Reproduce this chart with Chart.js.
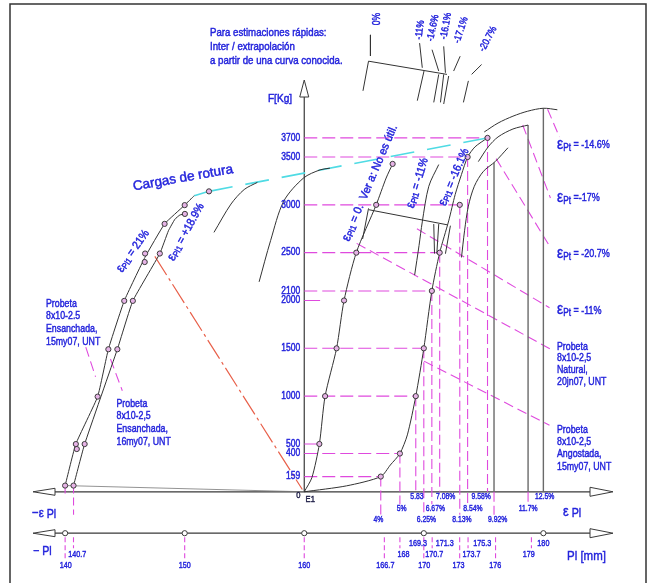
<!DOCTYPE html>
<html lang="es">
<head>
<meta charset="utf-8">
<title>F - εPl</title>
<script src="https://cdn.jsdelivr.net/npm/chart.js@4.4.1/dist/chart.umd.min.js"></script>
<style>
  html, body { margin: 0; padding: 0; background: #fff; }
  #wrap { position: relative; width: 652px; height: 583px; }
</style>
</head>
<body>
<div id="wrap"><canvas id="grafico" width="652" height="583"></canvas></div>
<script>
// x: deformación εPl en %, y: fuerza F en kg, x2: longitud Pl en mm
const EPS_MIN = -15.716, EPS_MAX = 17.99;
const PL_MIN = 134.854, PL_MAX = 188.784;
const F_MIN = -916, F_MAX = 5104;
const PL_AXIS_F = -433;

// curvas medidas [ε %, F kg]
const curveEnsanchada15 = [[-12.5, 65], [-11.94, 500], [-10.80, 995], [-10.24, 1490], [-9.41, 1996], [-8.33, 2450], [-7.30, 2801], [-6.25, 2997], [-5.75, 3096]];
const pointsEnsanchada15 = [[-12.5, 65], [-11.89, 447], [-11.94, 499], [-10.80, 995], [-10.24, 1490], [-9.41, 1996], [-8.34, 2402], [-8.32, 2491], [-7.30, 2801], [-6.25, 2997], [-4.98, 3141]];
const curveEnsanchada16 = [[-12.06, 65], [-11.48, 499], [-9.77, 1490], [-8.96, 1996], [-7.55, 2491], [-7.10, 2729], [-6.76, 2850], [-6.50, 2894], [-6.24, 2905]];
const pointsEnsanchada16 = [[-12.06, 65], [-11.48, 499], [-9.77, 1490], [-8.96, 1996], [-7.55, 2491], [-6.24, 2905]];
const curveNatural = [[0, 0], [0.40, 148], [0.79, 500], [1.09, 1000], [1.69, 1500], [2.08, 2000], [2.72, 2500], [3.76, 3000], [4.28, 3280], [4.62, 3428]];
const pointsNatural = [[0.79, 500], [1.09, 1000], [1.69, 1500], [2.08, 2000], [2.72, 2500], [3.76, 3000], [4.62, 3428]];
const curveAngostada = [[0, 0], [2.21, 62], [4, 159], [4.5, 280], [5, 400], [5.39, 595], [5.83, 1000], [6.25, 1500], [6.67, 2100], [7.08, 2500], [7.55, 2832], [7.89, 3108], [8.22, 3318], [8.54, 3500], [8.93, 3607], [9.58, 3700]];
const pointsAngostada = [[4, 159], [5, 400], [5.83, 1000], [6.25, 1500], [6.67, 2100], [7.08, 2500], [8.13, 3000], [8.54, 3500], [9.58, 3700]];

// curvas estimadas (inter / extrapolación)
const curveMenos11 = [[5.77, 2265], [6.0, 2574], [6.17, 2822], [6.51, 3194], [7.03, 3421]];
const curveMenos161 = [[8.22, 2450], [8.38, 2729], [8.58, 2987], [8.89, 3194], [9.36, 3349], [9.98, 3452], [10.65, 3597]];
const curveMenos17 = [[9.10, 3452], [9.62, 3607], [10.13, 3710], [10.91, 3793], [11.7, 3834]];
const curveMenos207 = [[9.41, 3762], [10.13, 3855], [10.91, 3927], [11.68, 3979], [12.5, 4010], [13.23, 3994]];
const curveRotura1 = [[-4.72, 2712], [-3.83, 3008], [-3.14, 3160], [-2.45, 3235]];
const curveRotura2 = [[-2.36, 2195], [-1.76, 2626], [-1.07, 3039], [-0.04, 3280], [0.83, 3366], [1.34, 3383]];
const verticalEnds = [[9.92, 3440], [11.7, 3834], [12.5, 4010]];

// cargas de rotura
const roturaSolid = [[-5.75, 3096], [-4.98, 3141]];
const roturaDashed = [[-4.98, 3141], [9.58, 3700]];
const redLine = [[-7.81, 2461], [-0.10, 24]];
const baseLine = [[-12.5, 65], [0, 0]];

// construcción
const constrLines = [
  [[3.38, 2949], [7.51, 2790]], [[6.77, 2799], [6.81, 2490]], [[7.03, 2799], [6.93, 2490]],
  [[7.64, 2782], [7.38, 2489]], [[3.05, 2643], [3.36, 2963]]
];
const topLevel = [[3.07, 4192], [3.36, 4502], [7.46, 4364]];
const topLines = [
  [[3.46, 4777], [3.46, 4557]], [[6.03, 4691], [6.17, 4433]], [[6.68, 4622], [7.03, 4399]],
  [[7.29, 4657], [7.38, 4381]], [[8.15, 4554], [7.81, 4399]], [[9.27, 4467], [8.75, 4364]],
  [[6.26, 4399], [5.91, 4089]], [[7.03, 4364], [6.77, 4071]], [[7.29, 4364], [7.12, 4071]],
  [[7.55, 4347], [7.29, 4054]], [[8.58, 4296], [8.32, 4071]]
];
const leaders = [
  [[12.72, 4000], [13.34, 3710]], [[11.42, 3835], [12.87, 3071]], [[10.03, 3483], [12.87, 2554]],
  [[5.89, 2750], [12.82, 1924]], [[2.74, 2597], [12.87, 1492]], [[6.26, 1366], [12.82, 695]],
  [[-11.42, 1512], [-10.91, 1203]], [[-10.13, 1388], [-9.51, 1057]]
];

// ejes
const forceTicks = [159, 400, 500, 1000, 1500, 2000, 2100, 2500, 3000, 3500, 3700];
const forceLineEnd = [4, 5, 0.79, 5.83, 6.25, 0.83, 6.67, 7.08, 8.13, 8.54, 9.58];
const strainTicks = [4, 5, 5.83, 6.25, 6.67, 7.08, 8.13, 8.54, 9.58, 9.92, 11.7, 12.5];
const strainLabels = ['4%', '5%', '5.83', '6.25%', '6.67%', '7.08%', '8.13%', '8.54%', '9.58%', '9.92%', '11.7%', '12.5%'];
const strainTopForce = [159, 400, 1000, 1500, 2100, 2500, 3000, 3500, 3700, 0, 0, 0];
const leftDrops = [[-12.5, 65], [-12.06, 65]];
const plTicks = [140, 140.7, 150, 160, 166.7, 168, 169.3, 170, 170.7, 171.3, 173, 173.7, 175.3, 176, 179, 180];
const plMarks = [140, 150, 160, 170, 180];

// disposición de las etiquetas (fila y corrimiento en px)
const strainRow = [3, 2, 1, 3, 2, 1, 3, 2, 1, 3, 2, 1];
const strainDx = [-2.4, 1.8, 1.2, 2.6, 3.5, 6, 2.2, 5.3, -6.3, 3.6, 0, 1.2];
const leftDropRow = [0, 3];
const plRow = [3, 2, 3, 3, 3, 2, 1, 3, 2, 1, 3, 2, 1, 3, 2, 1];
const plDx = [0.6, 3.8, 0, 0, 1, 3.6, 2.6, 0.4, 2.1, 5.4, -1.2, 3.4, -5, -0.4, -2.7, 0];

const FONT = "'Liberation Sans', Arial, sans-serif";
const BLUE = '#2424dc', MAG = '#df4ade', INK = '#333', GREY = '#6a6a6a';
const ROW_F = { 0: -59, 1: 0, 2: -131, 3: -240 };

const datasets = [];
const pts = arr => arr.map(p => ({ x: p[0], y: p[1] }));
function addLine(arr, color, width, dash, tension, axis) {
  datasets.push({
    data: pts(arr), showLine: true, borderColor: color, borderWidth: width,
    borderDash: dash || [], tension: tension || 0, pointRadius: 0, pointHoverRadius: 0,
    xAxisID: axis || 'x', fill: false
  });
}
function addMarkers(arr, fill, axis) {
  datasets.push({
    data: pts(arr), showLine: false, pointRadius: 2.6, pointHoverRadius: 2.6,
    pointBorderColor: '#3a3a3a', pointBorderWidth: 1, pointBackgroundColor: fill,
    xAxisID: axis || 'x'
  });
}

// marcadores encima
addMarkers(pointsEnsanchada15, '#e6b3e6');
addMarkers(pointsEnsanchada16, '#e6b3e6');
addMarkers(pointsNatural, '#e6b3e6');
addMarkers(pointsAngostada, '#e6b3e6');
addMarkers(plMarks.map(p => [p, PL_AXIS_F]), '#ffffff', 'x2');

// curvas
addLine(curveEnsanchada15, INK, 1, [], 0.12);
addLine(curveEnsanchada16, INK, 1, [], 0.12);
addLine(curveNatural, INK, 1, [], 0.25);
addLine(curveAngostada, INK, 1, [], 0.25);
addLine(curveMenos11, INK, 1, [], 0.3);
addLine(curveMenos161, INK, 1, [], 0.3);
addLine(curveMenos17, INK, 1, [], 0.3);
addLine(curveMenos207, INK, 1, [], 0.3);
addLine(curveRotura1, INK, 1, [], 0.3);
addLine(curveRotura2, INK, 1, [], 0.3);
verticalEnds.forEach(v => addLine([v, [v[0], 0]], GREY, 1.4));
addLine(baseLine, '#777', 0.8);
constrLines.forEach(l => addLine(l, INK, 1));
addLine(topLevel, INK, 1);
topLines.forEach(l => addLine(l, INK, 1));

// cargas de rotura y recta roja
addLine(roturaSolid, '#4fdbe4', 1.6);
addLine(roturaDashed, '#4fdbe4', 1.6, [24, 13]);
addLine(redLine, '#e8604a', 1.2, [22, 4, 3, 4]);

// líneas auxiliares magenta
forceTicks.forEach((f, i) => addLine([[0, f], [forceLineEnd[i], f]], MAG, 1.1, i === 5 ? [] : [13, 5]));
strainTicks.forEach((e, i) => {
  const bottom = ROW_F[strainRow[i]];
  if (strainTopForce[i] > bottom) addLine([[e, strainTopForce[i]], [e, bottom]], MAG, 1.1, [10, 4]);
});
leftDrops.forEach((d, i) => addLine([d, [d[0], ROW_F[leftDropRow[i]]]], MAG, 1.1, [8, 4]));
leaders.forEach(l => addLine(l, MAG, 1.1, [10, 5]));

// texto con estrechamiento horizontal y trazo (letra tipo CAD)
function rich(ctx, x, y, angle, parts, align, k) {
  k = k || 1;
  ctx.save();
  ctx.translate(x, y);
  ctx.rotate(angle * Math.PI / 180);
  ctx.scale(k, 1);
  let w = 0;
  parts.forEach(p => { ctx.font = p[1] + 'px ' + FONT; w += ctx.measureText(p[0]).width; });
  let cx = align === 'left' ? 0 : (align === 'right' ? -w : -w / 2);
  ctx.textAlign = 'left';
  ctx.textBaseline = 'middle';
  ctx.strokeStyle = ctx.fillStyle;
  ctx.lineWidth = 0.45;
  parts.forEach(p => {
    ctx.font = p[1] + 'px ' + FONT;
    ctx.fillText(p[0], cx, p[2] || 0);
    ctx.strokeText(p[0], cx, p[2] || 0);
    cx += ctx.measureText(p[0]).width;
  });
  ctx.restore();
}
function block(ctx, x, y, dy, lines, size, k) {
  lines.forEach((t, i) => rich(ctx, x, y + i * dy, 0, [[t, size]], 'left', k));
}
function arrowH(ctx, tip, base, y, h) {
  ctx.beginPath();
  ctx.moveTo(tip, y); ctx.lineTo(base, y - h); ctx.lineTo(base, y + h); ctx.closePath();
  ctx.fillStyle = '#fff'; ctx.fill(); ctx.stroke();
}

const dibujo = {
  id: 'dibujo',
  beforeDatasetsDraw(chart) {
    const ctx = chart.ctx;
    const sx = chart.scales.x, sy = chart.scales.y;
    const x0 = sx.getPixelForValue(0), y0 = sy.getPixelForValue(0), yP = sy.getPixelForValue(PL_AXIS_F);
    ctx.save();
    // marco
    ctx.strokeStyle = '#333'; ctx.lineWidth = 1.5;
    ctx.beginPath();
    ctx.moveTo(10, 583); ctx.lineTo(10, 4); ctx.lineTo(646, 4); ctx.lineTo(646, 583);
    ctx.stroke();
    // ejes
    ctx.strokeStyle = '#3a3a3a'; ctx.lineWidth = 1.2;
    ctx.beginPath();
    ctx.moveTo(55, y0); ctx.lineTo(590, y0);
    ctx.moveTo(55, yP); ctx.lineTo(590, yP);
    ctx.moveTo(x0, y0); ctx.lineTo(x0, 97);
    ctx.stroke();
    ctx.lineWidth = 1;
    arrowH(ctx, 33, 55, y0, 3.5);
    arrowH(ctx, 613, 590, y0, 4.5);
    arrowH(ctx, 33, 55, yP, 3.5);
    arrowH(ctx, 613, 590, yP, 4.5);
    ctx.beginPath();
    ctx.moveTo(x0, 80); ctx.lineTo(x0 - 4.5, 97); ctx.lineTo(x0 + 4.5, 97); ctx.closePath();
    ctx.fillStyle = '#fff'; ctx.fill(); ctx.stroke();
    // marcas del eje Pl
    const s2 = chart.scales.x2;
    ctx.strokeStyle = MAG; ctx.lineWidth = 1.1; ctx.setLineDash([5, 3]);
    plTicks.forEach((p, i) => {
      if (plRow[i] === 1) return;
      const px = s2.getPixelForValue(p);
      ctx.beginPath();
      ctx.moveTo(px, yP + 4); ctx.lineTo(px, yP + (plRow[i] === 2 ? 15 : 26));
      ctx.stroke();
    });
    ctx.restore();
  },
  afterDatasetsDraw(chart) {
    const ctx = chart.ctx;
    const sx = chart.scales.x, sy = chart.scales.y, s2 = chart.scales.x2;
    const x0 = sx.getPixelForValue(0), y0 = sy.getPixelForValue(0), yP = sy.getPixelForValue(PL_AXIS_F);
    ctx.save();
    ctx.fillStyle = BLUE;
    // etiquetas de fuerza
    forceTicks.forEach(f => rich(ctx, x0 - 4, sy.getPixelForValue(f), 0, [[String(f), 10]], 'right', 0.85));
    // etiquetas de deformación
    const rowY = { 1: y0 + 5, 2: y0 + 16.5, 3: y0 + 28 };
    strainTicks.forEach((e, i) => rich(ctx, sx.getPixelForValue(e) + strainDx[i], rowY[strainRow[i]], 0, [[strainLabels[i], 9.5]], 'center', 0.72));
    // etiquetas de Pl
    const plY = { 1: yP + 10.5, 2: yP + 21, 3: yP + 32 };
    plTicks.forEach((p, i) => rich(ctx, s2.getPixelForValue(p) + plDx[i], plY[plRow[i]], 0, [[String(p), 9.5]], 'center', 0.76));
    ctx.fillStyle = '#22224a';
    rich(ctx, x0 - 6, y0 + 4, 0, [['0', 9.5]], 'center', 0.8);
    rich(ctx, x0 + 6, y0 + 8, 0, [['E1', 9.5]], 'center', 0.8);

    ctx.fillStyle = BLUE;
    rich(ctx, 280, 99, 0, [['F[Kg]', 11.5]], 'center', 0.88);
    rich(ctx, 32, 513, 0, [['−ε', 13.5], [' Pl', 12.5, 1.5]], 'left', 0.85);
    rich(ctx, 33, 551.5, 0, [['− Pl', 12.5]], 'left', 0.85);
    rich(ctx, 563, 511.5, 0, [['ε', 15], [' Pl', 12.5, 2]], 'left', 0.85);
    rich(ctx, 567, 556.5, 0, [['Pl [mm]', 13.5]], 'left', 0.85);

    block(ctx, 210, 33, 14, ['Para estimaciones rápidas:', 'Inter / extrapolación', 'a partir de una curva conocida.'], 10.5, 0.92);
    block(ctx, 46, 303.5, 12.7, ['Probeta', '8x10-2.5', 'Ensanchada,', '15my07, UNT'], 11, 0.8);
    block(ctx, 116.5, 403.5, 12.8, ['Probeta', '8x10-2,5', 'Ensanchada,', '16my07, UNT'], 11, 0.8);
    block(ctx, 557, 346.7, 11.7, ['Probeta', '8x10-2,5', 'Natural,', '20jn07, UNT'], 11, 0.8);
    block(ctx, 557, 430, 12.2, ['Probeta', '8x10-2,5', 'Angostada,', '15my07, UNT'], 11, 0.8);

    rich(ctx, 557, 145, 0, [['ε', 17, -1], ['Pt', 10, 3], [' = -14.6%', 11]], 'left', 0.82);
    rich(ctx, 557, 198.3, 0, [['ε', 17, -1], ['Pt', 10, 3], [' =-17%', 11]], 'left', 0.82);
    rich(ctx, 557, 254, 0, [['ε', 17, -1], ['Pt', 10, 3], [' = -20.7%', 11]], 'left', 0.82);
    rich(ctx, 557, 310.7, 0, [['ε', 17, -1], ['Pt', 10, 3], [' = -11%', 11]], 'left', 0.82);

    rich(ctx, 183, 178, -10, [['Cargas de rotura', 13.5]], 'center', 1);
    rich(ctx, 133, 251, -55, [['ε', 13], ['Pl1', 8.5, 2.5], [' = 21%', 11.5]], 'center', 0.9);
    rich(ctx, 186, 232, -61, [['ε', 13], ['Pl1', 8.5, 2.5], [' = +18.9%', 11.5]], 'center', 0.9);
    rich(ctx, 370, 183, -67, [['ε', 13], ['Pl1', 8.5, 2.5], [' = 0.  Ver a: No es útil.', 11.5]], 'center', 0.95);
    rich(ctx, 417.5, 183, -73, [['ε', 13], ['Pl1', 8.5, 2.5], [' = -11%', 11.5]], 'center', 0.9);
    rich(ctx, 454, 177, -67, [['ε', 13], ['Pl1', 8.5, 2.5], [' = -16.1%', 11.5]], 'center', 0.9);

    rich(ctx, 377, 19, -90, [['0%', 10]], 'center', 0.85);
    rich(ctx, 420, 30, -82, [['-11%', 10]], 'center', 0.85);
    rich(ctx, 433, 28, -78, [['-14.6%', 10]], 'center', 0.85);
    rich(ctx, 446, 26, -80, [['-16.1%', 10]], 'center', 0.85);
    rich(ctx, 461, 30, -72, [['-17.1%', 10]], 'center', 0.85);
    rich(ctx, 488, 39, -62, [['-20.7%', 10]], 'center', 0.85);
    ctx.restore();
  }
};

new Chart(document.getElementById('grafico'), {
  type: 'scatter',
  data: { datasets },
  options: {
    responsive: false,
    animation: false,
    layout: { padding: 0 },
    plugins: { legend: { display: false }, tooltip: { enabled: false } },
    scales: {
      x: { type: 'linear', min: EPS_MIN, max: EPS_MAX, display: false },
      x2: { type: 'linear', min: PL_MIN, max: PL_MAX, display: false },
      y: { type: 'linear', min: F_MIN, max: F_MAX, display: false }
    }
  },
  plugins: [dibujo]
});
</script>
</body>
</html>
